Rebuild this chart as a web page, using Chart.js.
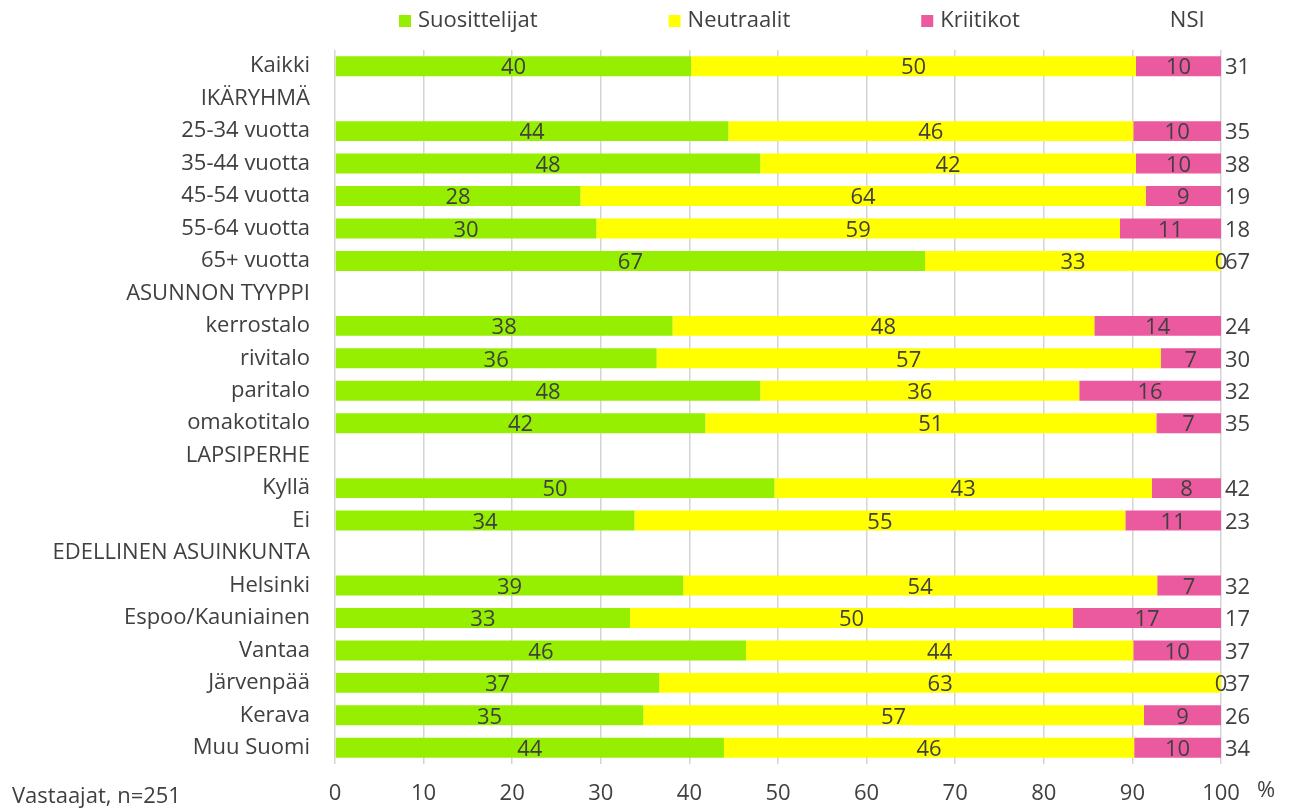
<!DOCTYPE html>
<html>
<head>
<meta charset="utf-8">
<script src="https://cdn.jsdelivr.net/npm/chart.js@4.4.0/dist/chart.umd.min.js"></script>
<style>
    html, body { margin: 0; padding: 0; background: #ffffff; }
    #wrap { width: 1293px; height: 812px; }
</style>
</head>
<body>
<div id="wrap"><canvas id="nsiChart" width="1293" height="812"></canvas></div>
<script>
// Rows (header rows have no values)
const categories = [
    'Kaikki', 'IKÄRYHMÄ', '25-34 vuotta', '35-44 vuotta', '45-54 vuotta', '55-64 vuotta', '65+ vuotta',
    'ASUNNON TYYPPI', 'kerrostalo', 'rivitalo', 'paritalo', 'omakotitalo',
    'LAPSIPERHE', 'Kyllä', 'Ei',
    'EDELLINEN ASUINKUNTA', 'Helsinki', 'Espoo/Kauniainen', 'Vantaa', 'Järvenpää', 'Kerava', 'Muu Suomi'
];

// Shares in %
const suosittelijat = [40.2, null, 44.4, 48.0, 27.7, 29.5, 66.6, null, 38.1, 36.3, 48.0, 41.8, null, 49.6, 33.8, null, 39.3, 33.3, 46.4, 36.6, 34.8, 43.9];
const neutraalit    = [50.2, null, 45.7, 42.4, 63.8, 59.1, 33.4, null, 47.6, 56.9, 36.0, 50.9, null, 42.6, 55.4, null, 53.5, 50.0, 43.7, 63.4, 56.5, 46.3];
const kriitikot     = [9.6,  null, 9.9,  9.6,  8.5,  11.4, 0,    null, 14.3, 6.8,  16.0, 7.3,  null, 7.8,  10.8, null, 7.2,  16.7, 9.9,  0,    8.7,  9.8];

// Net score column on the right
const nsi = [31, null, 35, 38, 19, 18, 67, null, 24, 30, 32, 35, null, 42, 23, null, 32, 17, 37, 37, 26, 34];

const xTicks = [0, 10, 20, 30, 40, 50, 60, 70, 80, 90, 100];

const FONT = "'Open Sans', 'Liberation Sans', sans-serif";
const TEXT = '#404040';

// Value labels inside the bars + NSI column
const barLabels = {
    id: 'barLabels',
    afterDatasetsDraw(chart) {
        const ctx = chart.ctx;
        ctx.save();
        ctx.font = `22px ${FONT}`;
        ctx.fillStyle = TEXT;
        ctx.textAlign = 'center';
        ctx.textBaseline = 'middle';
        chart.data.datasets.forEach((ds, i) => {
            const meta = chart.getDatasetMeta(i);
            meta.data.forEach((bar, j) => {
                const v = ds.data[j];
                if (v === null || v === undefined) return;
                const p = bar.getProps(['x', 'y', 'base'], true);
                ctx.fillText(String(Math.round(v)), (p.x + p.base) / 2, p.y + 2);
            });
        });

        const xs = chart.scales.x;
        const ys = chart.scales.y;
        ctx.textAlign = 'left';
        nsi.forEach((v, j) => {
            if (v === null) return;
            ctx.fillText(String(v), xs.getPixelForValue(100) + 4, ys.getPixelForValue(j) + 2);
        });
        ctx.restore();
    }
};

// Legend row and the loose texts round the axes
const extras = {
    id: 'extras',
    afterDraw(chart) {
        const ctx = chart.ctx;
        ctx.save();
        ctx.font = `22px ${FONT}`;
        ctx.fillStyle = TEXT;
        ctx.textBaseline = 'middle';

        const items = chart.data.datasets.map(ds => ({ label: ds.label, color: ds.backgroundColor }));
        items.push({ label: 'NSI', color: null });
        let x = 399;
        items.forEach(it => {
            if (it.color) {
                ctx.fillStyle = it.color;
                ctx.fillRect(x, 15, 12, 12);
            }
            ctx.fillStyle = TEXT;
            ctx.textAlign = 'left';
            ctx.fillText(it.label, x + 19, 21);
            x += 19 + ctx.measureText(it.label).width + 131;
        });

        ctx.textAlign = 'left';
        ctx.fillText('Vastaajat, n=251', 12, 797);
        ctx.fillText('%', chart.chartArea.right + 36, 791);
        ctx.restore();
    }
};

const ctx = document.getElementById('nsiChart').getContext('2d');

new Chart(ctx, {
    type: 'bar',
    data: {
        labels: categories,
        datasets: [
            { label: 'Suosittelijat', data: suosittelijat, backgroundColor: '#96ef00' },
            { label: 'Neutraalit', data: neutraalit, backgroundColor: '#ffff00' },
            { label: 'Kriitikot', data: kriitikot, backgroundColor: '#eb5a9e' }
        ]
    },
    options: {
        indexAxis: 'y',
        responsive: false,
        animation: false,
        devicePixelRatio: 1,
        layout: { padding: { top: 50, right: 72, left: 0, bottom: 0 } },
        datasets: {
            bar: { barPercentage: 0.615, categoryPercentage: 1.0, borderWidth: 0 }
        },
        plugins: {
            legend: { display: false },
            tooltip: { enabled: false }
        },
        scales: {
            x: {
                stacked: true,
                min: 0,
                max: 100,
                afterBuildTicks: scale => { scale.ticks = xTicks.map(v => ({ value: v })); },
                afterFit: scale => { scale.height = 48; },
                grid: { color: '#d4d4d4', lineWidth: 1.5, drawTicks: false },
                border: { display: false },
                ticks: { font: { family: FONT, size: 22 }, color: TEXT, padding: 17, maxRotation: 0 }
            },
            y: {
                stacked: true,
                afterFit: scale => { scale.width = 335; },
                grid: { display: false, drawTicks: false },
                border: { display: false },
                ticks: { font: { family: FONT, size: 22 }, color: TEXT, padding: 25, autoSkip: false }
            }
        }
    },
    plugins: [barLabels, extras]
});
</script>
</body>
</html>
